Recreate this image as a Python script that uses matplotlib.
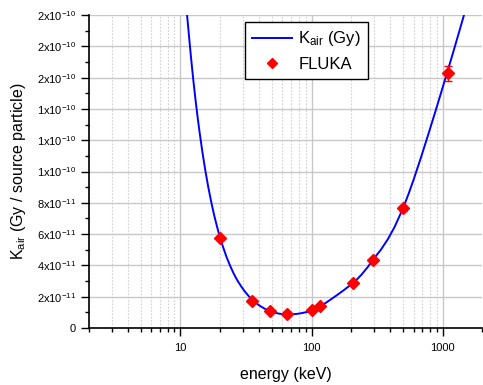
import matplotlib
matplotlib.use("Agg")
import matplotlib.pyplot as plt
from matplotlib.ticker import FixedLocator, NullFormatter, LogLocator

plt.rcParams['font.family'] = ['Liberation Sans', 'DejaVu Sans']
plt.rcParams['mathtext.fontset'] = 'custom'
plt.rcParams['mathtext.rm'] = 'Liberation Sans'
plt.rcParams['mathtext.it'] = 'Liberation Sans:italic'
plt.rcParams['mathtext.default'] = 'regular'

# Fitted curve K_air: energy in keV, value in units of 1e-11 Gy
curve_energy = [11.2, 11.6, 12.0, 12.5, 13.0, 13.5, 14.0, 14.7, 15.5, 16.3, 17.2, 18.2,
                19.1, 20.0, 21.2, 22.5, 24.0, 25.5, 27.0, 29.0, 31.0, 33.0, 35.0, 37.5,
                40.0, 44.0, 48.0, 52.0, 57.0, 62.0, 67.0, 72.0, 78.0, 85.0, 92.0, 100.0,
                108.0, 117.0, 128.0, 140.0, 155.0, 172.0, 190.0, 208.0, 240.0, 270.0,
                294.0, 338.0, 380.0, 430.0, 499.0, 550.0, 605.0, 680.0, 765.0, 850.0,
                937.0, 1055.0, 1200.0, 1294.0, 1480.0, 1520.0]
curve_kair_e11 = [20.1, 18.71, 17.39, 15.93, 14.64, 13.50, 12.49, 11.24, 10.03, 9.00,
                  8.02, 7.10, 6.41, 5.80, 5.14, 4.52, 3.95, 3.47, 3.08, 2.67, 2.33, 2.06,
                  1.83, 1.61, 1.44, 1.23, 1.08, 0.986, 0.912, 0.879, 0.868, 0.877, 0.907,
                  0.959, 1.025, 1.10, 1.23, 1.40, 1.60, 1.82, 2.08, 2.35, 2.63, 2.86, 3.40,
                  3.92, 4.36, 5.00, 5.64, 6.45, 7.65, 8.57, 9.55, 10.83, 12.18, 13.41,
                  14.57, 16.0, 17.57, 18.51, 20.2, 20.54]

# FLUKA results
fluka_energy = [20, 35, 48, 65, 100, 117, 208, 294, 499, 1098]
fluka_kair_e11 = [5.77, 1.74, 1.09, 0.89, 1.13, 1.43, 2.86, 4.36, 7.65, 16.27]
fluka_err_e11 = [0.05, 0.03, 0.02, 0.02, 0.02, 0.03, 0.05, 0.08, 0.15, 0.48]

ytick_values = [0, 2e-11, 4e-11, 6e-11, 8e-11, 1e-10, 1.2e-10, 1.4e-10, 1.6e-10, 1.8e-10, 2e-10]
ytick_labels = ['0', r'2x10$^{-11}$', r'4x10$^{-11}$', r'6x10$^{-11}$', r'8x10$^{-11}$',
                r'1x10$^{-10}$', r'1x10$^{-10}$', r'1x10$^{-10}$', r'2x10$^{-10}$',
                r'2x10$^{-10}$', r'2x10$^{-10}$']
xtick_values = [10, 100, 1000]
xtick_labels = ['10', '100', '1000']

curve_kair = [v * 1e-11 for v in curve_kair_e11]
fluka_kair = [v * 1e-11 for v in fluka_kair_e11]
fluka_err = [v * 1e-11 for v in fluka_err_e11]

fig = plt.figure(figsize=(4.83, 3.85), dpi=100)
ax = fig.add_axes([0.184, 0.148, 0.814, 0.813])

ax.plot(curve_energy, curve_kair, color='#0000ff', lw=1.4, label=r'K$_{air}$ (Gy)',
        zorder=3, solid_joinstyle='round')
ax.errorbar(fluka_energy, fluka_kair, yerr=fluka_err, fmt='none', ecolor='#ff0000',
            elinewidth=1, capsize=3, zorder=4)
ax.plot(fluka_energy, fluka_kair, ls='none', marker='D', color='#ff0000', ms=6.5,
        mec='#ff0000', label='FLUKA', zorder=5)

ax.set_xscale('log')
ax.set_xlim(2, 2000)
ax.set_ylim(0, 2e-10)

ax.xaxis.set_major_locator(FixedLocator(xtick_values))
ax.set_xticklabels(xtick_labels)
ax.xaxis.set_minor_locator(LogLocator(base=10, subs=range(2, 10)))
ax.xaxis.set_minor_formatter(NullFormatter())

ax.yaxis.set_major_locator(FixedLocator(ytick_values))
ax.set_yticklabels(ytick_labels)
ax.yaxis.set_minor_locator(FixedLocator([i * 1e-11 for i in range(1, 20, 2)]))

ax.tick_params(axis='both', which='major', direction='out', length=6, width=1,
               color='black')
ax.tick_params(axis='both', which='minor', direction='out', length=3, width=1, color='black')
ax.tick_params(axis='x', which='major', labelsize=8, pad=5)
ax.tick_params(axis='y', which='major', labelsize=8)

ax.grid(True, which='major', axis='both', color='#c8c8c8', lw=1, ls='-', zorder=0)
ax.grid(True, which='minor', axis='x', color='#d0d0d0', lw=0.8, ls=(0, (1.5, 1.5)), zorder=0)

for s in ['top', 'right']:
    ax.spines[s].set_visible(False)
for s in ['left', 'bottom']:
    ax.spines[s].set_linewidth(1.2)
    ax.spines[s].set_color('black')

ax.set_xlabel('energy (keV)', fontsize=11.5, labelpad=10)
ax.set_ylabel(r'K$_{air}$ (Gy / source particle)', fontsize=11.5, labelpad=6)

leg = ax.legend(loc='upper left', bbox_to_anchor=(0.397, 0.978), borderaxespad=0,
                fontsize=12, frameon=True, fancybox=False, edgecolor='black',
                framealpha=1, handlelength=2.4, borderpad=0.45, labelspacing=0.5,
                handletextpad=0.35)
leg.get_frame().set_linewidth(1.0)
leg.legend_handles[1].set_markersize(5)

fig.savefig('out.png', dpi=100)
